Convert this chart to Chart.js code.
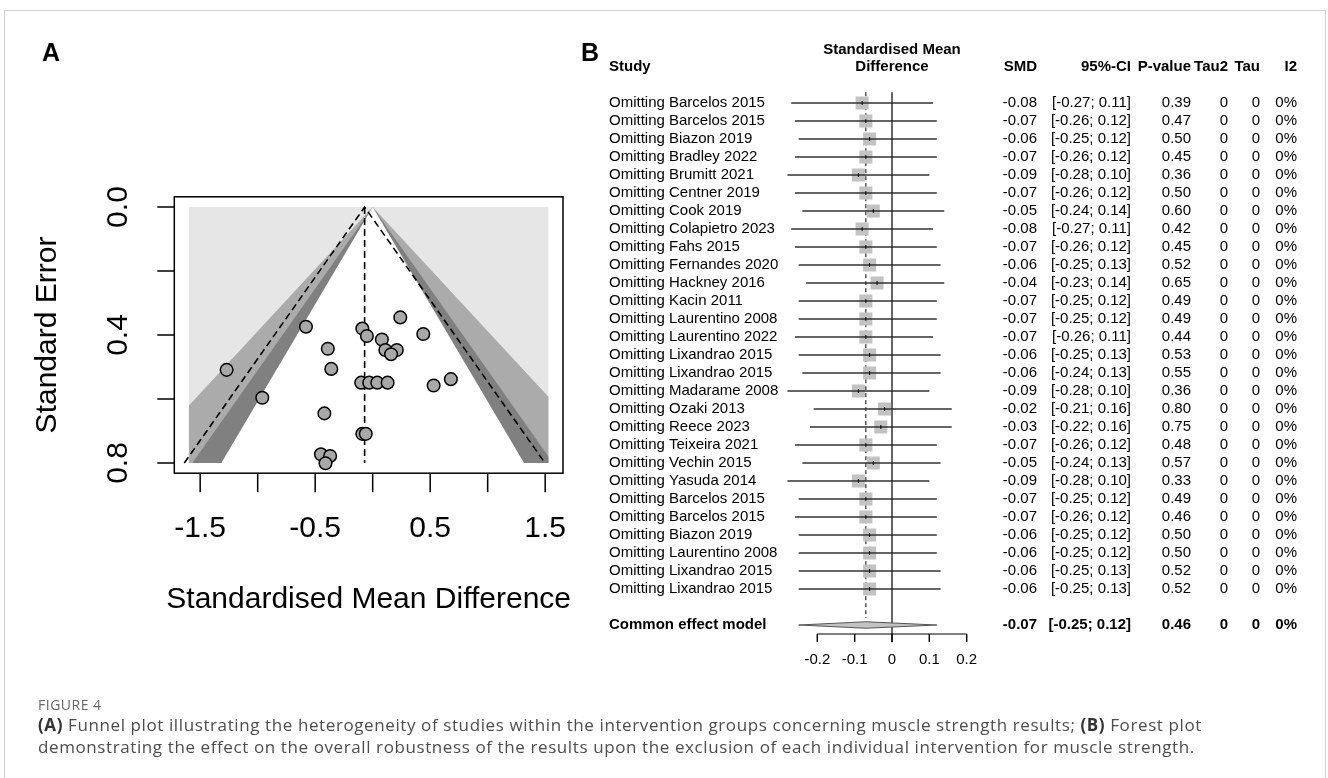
<!DOCTYPE html>
<html>
<head>
<meta charset="utf-8">
<title>Figure 4</title>
<script src="https://cdn.jsdelivr.net/npm/chart.js@4.4.1/dist/chart.umd.min.js"></script>
<style>
html, body { margin: 0; padding: 0; background: #fff; }
body { position: relative; width: 1328px; height: 778px; overflow: hidden; }
#frame { position: absolute; left: 4px; top: 10px; width: 1322px; height: 800px; border: 1px solid #d0d0d0; box-sizing: border-box; }
canvas { position: absolute; left: 0; top: 0; }
#caption { position: absolute; left: 38px; top: 696px; font-family: "Open Sans", "Noto Sans", sans-serif; color: #4d4d4d; white-space: nowrap; }
#caption .fig { font-size: 14px; line-height: 18px; color: #666; letter-spacing: 0.5px; }
#caption .txt { font-size: 17px; line-height: 22px; letter-spacing: 0.6px; }
#caption b { color: #333; }
</style>
</head>
<body>
<div id="frame"></div>
<canvas id="funnel" width="1328" height="778"></canvas>
<canvas id="forest" width="1328" height="778"></canvas>
<div id="caption">
  <div class="fig">FIGURE 4</div>
  <div class="txt"><b>(A)</b> Funnel plot illustrating the heterogeneity of studies within the intervention groups concerning muscle strength results; <b>(B)</b> Forest plot<br>demonstrating the effect on the overall robustness of the results upon the exclusion of each individual intervention for muscle strength.</div>
</div>
<script>
const FONT = '"Liberation Sans", Arial, Helvetica, sans-serif';

// -----------------------------
// A: funnel plot data
const funnelSMD = [-1.27, -0.96, -0.58, 0.24, -0.09, -0.05, 0.08, 0.44, -0.39, 0.11, 0.21, 0.16, -0.36,
                   -0.10, -0.03, 0.04, 0.13, 0.53, 0.68, -0.42, -0.09, -0.06, -0.45, -0.37, -0.41];
const funnelSE  = [0.509, 0.596, 0.374, 0.345, 0.380, 0.403, 0.414, 0.397, 0.443, 0.447, 0.447, 0.460, 0.506,
                   0.549, 0.549, 0.549, 0.549, 0.558, 0.538, 0.645, 0.709, 0.709, 0.773, 0.778, 0.801];
const pooledSMD = -0.07;
const funnelXTicks = [-1.5, -1, -0.5, 0, 0.5, 1, 1.5];
const funnelXLabels = [-1.5, -0.5, 0.5, 1.5];
const funnelYTicks = [0, 0.2, 0.4, 0.6, 0.8];
const funnelYLabels = [0, 0.4, 0.8];
const contourZ = [2.576, 1.96, 1.645];        // p = 0.01, 0.05, 0.10
const contourFill = ['#ababab', '#808080', '#ffffff'];
const funnelXlim = [-1.6, 1.53];
const seMax = 0.8;

// -----------------------------
// B: forest plot data (leave-one-out)
const studies = ['Omitting Barcelos 2015', 'Omitting Barcelos 2015', 'Omitting Biazon 2019', 'Omitting Bradley 2022',
  'Omitting Brumitt 2021', 'Omitting Centner 2019', 'Omitting Cook 2019', 'Omitting Colapietro 2023',
  'Omitting Fahs 2015', 'Omitting Fernandes 2020', 'Omitting Hackney 2016', 'Omitting Kacin 2011',
  'Omitting Laurentino 2008', 'Omitting Laurentino 2022', 'Omitting Lixandrao 2015', 'Omitting Lixandrao 2015',
  'Omitting Madarame 2008', 'Omitting Ozaki 2013', 'Omitting Reece 2023', 'Omitting Teixeira 2021',
  'Omitting Vechin 2015', 'Omitting Yasuda 2014', 'Omitting Barcelos 2015', 'Omitting Barcelos 2015',
  'Omitting Biazon 2019', 'Omitting Laurentino 2008', 'Omitting Lixandrao 2015', 'Omitting Lixandrao 2015'];
const smd    = [-0.08, -0.07, -0.06, -0.07, -0.09, -0.07, -0.05, -0.08, -0.07, -0.06, -0.04, -0.07, -0.07, -0.07,
                -0.06, -0.06, -0.09, -0.02, -0.03, -0.07, -0.05, -0.09, -0.07, -0.07, -0.06, -0.06, -0.06, -0.06];
const ciLow  = [-0.27, -0.26, -0.25, -0.26, -0.28, -0.26, -0.24, -0.27, -0.26, -0.25, -0.23, -0.25, -0.25, -0.26,
                -0.25, -0.24, -0.28, -0.21, -0.22, -0.26, -0.24, -0.28, -0.25, -0.26, -0.25, -0.25, -0.25, -0.25];
const ciHigh = [0.11, 0.12, 0.12, 0.12, 0.10, 0.12, 0.14, 0.11, 0.12, 0.13, 0.14, 0.12, 0.12, 0.11,
                0.13, 0.13, 0.10, 0.16, 0.16, 0.12, 0.13, 0.10, 0.12, 0.12, 0.12, 0.12, 0.13, 0.13];
const pValue = [0.39, 0.47, 0.50, 0.45, 0.36, 0.50, 0.60, 0.42, 0.45, 0.52, 0.65, 0.49, 0.49, 0.44,
                0.53, 0.55, 0.36, 0.80, 0.75, 0.48, 0.57, 0.33, 0.49, 0.46, 0.50, 0.50, 0.52, 0.52];
const tau2   = [0, 0, 0, 0, 0, 0, 0, 0, 0, 0, 0, 0, 0, 0, 0, 0, 0, 0, 0, 0, 0, 0, 0, 0, 0, 0, 0, 0];
const tau    = [0, 0, 0, 0, 0, 0, 0, 0, 0, 0, 0, 0, 0, 0, 0, 0, 0, 0, 0, 0, 0, 0, 0, 0, 0, 0, 0, 0];
const i2     = [0, 0, 0, 0, 0, 0, 0, 0, 0, 0, 0, 0, 0, 0, 0, 0, 0, 0, 0, 0, 0, 0, 0, 0, 0, 0, 0, 0];
const ceLabel = 'Common effect model';
const ceSMD = -0.07, ceLow = -0.25, ceHigh = 0.12, ceP = 0.46, ceTau2 = 0, ceTau = 0, ceI2 = 0;
const forestTicks = [-0.2, -0.1, 0, 0.1, 0.2];

// -----------------------------
function tent(z){
  // region |x| < z*se, cut to the plotted x range
  const xl = Math.max(funnelXlim[0], -z * seMax);
  const xr = Math.min(funnelXlim[1], z * seMax);
  return [{x: xl, y: Math.abs(xl) / z}, {x: 0, y: 0}, {x: xr, y: xr / z}];
}

function fmt(v){ return v.toFixed(2); }
function fmtCI(lo, hi){ return '[' + fmt(lo) + '; ' + fmt(hi) + ']'; }

const funnelAxes = {
  id: 'funnelAxes',
  afterDraw(chart){
    const {ctx, chartArea: a, scales: {x, y}} = chart;
    ctx.save();
    ctx.strokeStyle = '#000';
    ctx.lineWidth = 1.5;
    ctx.strokeRect(a.left, a.top, a.right - a.left, a.bottom - a.top);
    ctx.beginPath();
    funnelXTicks.forEach(v => { const px = x.getPixelForValue(v); ctx.moveTo(px, a.bottom); ctx.lineTo(px, a.bottom + 19); });
    funnelYTicks.forEach(v => { const py = y.getPixelForValue(v); ctx.moveTo(a.left, py); ctx.lineTo(a.left - 17, py); });
    ctx.stroke();

    ctx.fillStyle = '#000';
    ctx.font = '30px ' + FONT;
    ctx.textAlign = 'center';
    ctx.textBaseline = 'middle';
    funnelXLabels.forEach(v => ctx.fillText(String(v), x.getPixelForValue(v), a.bottom + 56));
    funnelYLabels.forEach(v => {
      ctx.save();
      ctx.translate(a.left - 56, y.getPixelForValue(v));
      ctx.rotate(-Math.PI / 2);
      ctx.fillText(v.toFixed(1), 0, 0);
      ctx.restore();
    });
    ctx.fillText('Standardised Mean Difference', (a.left + a.right) / 2, a.bottom + 127);
    ctx.save();
    ctx.translate(a.left - 127, (a.top + a.bottom) / 2);
    ctx.rotate(-Math.PI / 2);
    ctx.fillText('Standard Error', 0, 0);
    ctx.restore();

    ctx.font = 'bold 25px ' + FONT;
    ctx.textAlign = 'left';
    ctx.fillText('A', 42, 54);
    ctx.restore();
  }
};

// -----------------------------
// A: funnel chart
new Chart(document.getElementById('funnel'), {
  type: 'line',
  data: {
    datasets: [
      {data: [{x: funnelXlim[0], y: 0}, {x: funnelXlim[1], y: 0}], fill: {value: seMax},
       backgroundColor: '#e6e6e6', borderWidth: 0, pointRadius: 0, order: 10},
      ...contourZ.map((z, k) => ({data: tent(z), fill: {value: seMax}, backgroundColor: contourFill[k],
       borderWidth: 0, pointRadius: 0, order: 9 - k})),
      {data: [{x: pooledSMD, y: 0}, {x: pooledSMD, y: seMax}], borderColor: '#000', borderWidth: 1.6,
       borderDash: [7, 4], pointRadius: 0, fill: false, order: 2},
      {data: [{x: pooledSMD - 1.96 * seMax, y: seMax}, {x: pooledSMD, y: 0}, {x: pooledSMD + 1.96 * seMax, y: seMax}],
       borderColor: '#000', borderWidth: 1.6, borderDash: [7, 4], pointRadius: 0, fill: false, order: 2},
      {data: funnelSMD.map((v, i) => ({x: v, y: funnelSE[i]})), showLine: false, pointRadius: 6.3,
       pointBackgroundColor: '#a8a8a8', pointBorderColor: '#000', pointBorderWidth: 1.5, order: 1}
    ]
  },
  options: {
    responsive: false, animation: false, events: [],
    layout: {padding: {left: 174.3, right: 765, top: 196.8, bottom: 304.8}},
    plugins: {legend: {display: false}, tooltip: {enabled: false}},
    scales: {
      x: {type: 'linear', min: -1.725, max: 1.655, display: false},
      y: {type: 'linear', min: -0.032, max: 0.832, reverse: true, display: false}
    }
  },
  plugins: [funnelAxes]
});

// -----------------------------
// B: forest chart
const ceRow = studies.length + 1;
const columns = [
  {head: 'SMD',     right: 1037, rows: smd.map(fmt),                              ce: fmt(ceSMD)},
  {head: '95%-CI',  right: 1131, rows: ciLow.map((v, i) => fmtCI(v, ciHigh[i])),   ce: fmtCI(ceLow, ceHigh)},
  {head: 'P-value', right: 1191, rows: pValue.map(fmt),                           ce: fmt(ceP)},
  {head: 'Tau2',    right: 1228, rows: tau2.map(String),                          ce: String(ceTau2)},
  {head: 'Tau',     right: 1260, rows: tau.map(String),                           ce: String(ceTau)},
  {head: 'I2',      right: 1297, rows: i2.map(v => v + '%'),                      ce: ceI2 + '%'}
];

const forestText = {
  id: 'forestText',
  afterDraw(chart){
    const {ctx, scales: {x, y}} = chart;
    const rowY = i => y.getPixelForValue(i);
    ctx.save();
    ctx.fillStyle = '#000';
    ctx.textBaseline = 'middle';

    ctx.font = 'bold 25px ' + FONT;
    ctx.textAlign = 'left';
    ctx.fillText('B', 581, 54);

    ctx.font = 'bold 15px ' + FONT;
    ctx.fillText('Study', 609, rowY(-2));
    ctx.textAlign = 'center';
    ctx.fillText('Standardised Mean', x.getPixelForValue(0), rowY(-2.95));
    ctx.fillText('Difference', x.getPixelForValue(0), rowY(-2));
    ctx.textAlign = 'right';
    columns.forEach(c => ctx.fillText(c.head, c.right, rowY(-2)));

    ctx.font = '15px ' + FONT;
    studies.forEach((s, i) => {
      ctx.textAlign = 'left';
      ctx.fillText(s, 609, rowY(i));
      ctx.textAlign = 'right';
      columns.forEach(c => ctx.fillText(c.rows[i], c.right, rowY(i)));
    });

    ctx.font = 'bold 15px ' + FONT;
    ctx.textAlign = 'left';
    ctx.fillText(ceLabel, 609, rowY(ceRow));
    ctx.textAlign = 'right';
    columns.forEach(c => ctx.fillText(c.ce, c.right, rowY(ceRow)));

    ctx.font = '15px ' + FONT;
    ctx.textAlign = 'center';
    forestTicks.forEach(t => ctx.fillText(t === 0 ? '0' : t.toFixed(1), x.getPixelForValue(t), rowY(ceRow + 1.95)));
    ctx.restore();
  }
};

let ciSegments = [];
studies.forEach((s, i) => {
  ciSegments.push({x: ciLow[i], y: i}, {x: ciHigh[i], y: i}, {x: NaN, y: NaN});
});
let tickSegments = [];
forestTicks.forEach(t => {
  tickSegments.push({x: t, y: ceRow + 0.5}, {x: t, y: ceRow + 0.95}, {x: NaN, y: NaN});
});
const diamondH = 0.18;

new Chart(document.getElementById('forest'), {
  type: 'line',
  data: {
    datasets: [
      {data: [{x: ceSMD, y: -0.6}, {x: ceSMD, y: ceRow - 0.4}], borderColor: '#000', borderWidth: 1,
       borderDash: [4, 3], pointRadius: 0, fill: false, order: 7},
      {data: [{x: 0, y: -0.6}, {x: 0, y: ceRow + 0.5}], borderColor: '#000', borderWidth: 1.2,
       pointRadius: 0, fill: false, order: 6},
      {data: smd.map((v, i) => ({x: v, y: i})), showLine: false, pointStyle: 'rect', pointRadius: 9.2,
       pointBackgroundColor: '#c2c2c2', pointBorderWidth: 0, order: 5},
      {data: ciSegments, borderColor: '#333', borderWidth: 1.3, pointRadius: 0, spanGaps: false, fill: false, order: 4},
      {data: smd.map((v, i) => ({x: v, y: i})), showLine: false, pointStyle: 'line', pointRotation: 90,
       pointRadius: 2, pointBorderColor: '#000', pointBorderWidth: 1, order: 3},
      {data: [{x: ceLow, y: ceRow}, {x: ceSMD, y: ceRow - diamondH}, {x: ceHigh, y: ceRow}], fill: {value: ceRow},
       backgroundColor: '#c2c2c2', borderColor: '#555', borderWidth: 1, pointRadius: 0, order: 2},
      {data: [{x: ceLow, y: ceRow}, {x: ceSMD, y: ceRow + diamondH}, {x: ceHigh, y: ceRow}], fill: {value: ceRow},
       backgroundColor: '#c2c2c2', borderColor: '#555', borderWidth: 1, pointRadius: 0, order: 2},
      {data: [{x: forestTicks[0], y: ceRow + 0.5}, {x: forestTicks[forestTicks.length - 1], y: ceRow + 0.5}],
       borderColor: '#000', borderWidth: 1, pointRadius: 0, fill: false, order: 1},
      {data: tickSegments, borderColor: '#000', borderWidth: 1, pointRadius: 0, spanGaps: false, fill: false, order: 1}
    ]
  },
  options: {
    responsive: false, animation: false, events: [],
    layout: {padding: {left: 780, right: 324, top: 22, bottom: 90}},
    plugins: {legend: {display: false}, tooltip: {enabled: false}},
    scales: {
      x: {type: 'linear', min: -0.3, max: 0.3, display: false},
      y: {type: 'linear', min: -4.5, max: 32.5, reverse: true, display: false}
    }
  },
  plugins: [forestText]
});
</script>
</body>
</html>
